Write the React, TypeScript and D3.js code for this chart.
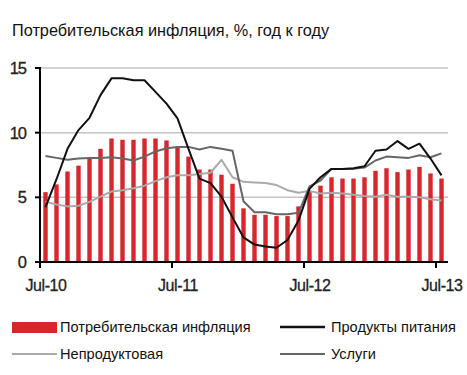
import React from "react";
import * as d3 from "d3";

const months = [
  "2010-07", "2010-08", "2010-09", "2010-10", "2010-11", "2010-12",
  "2011-01", "2011-02", "2011-03", "2011-04", "2011-05", "2011-06",
  "2011-07", "2011-08", "2011-09", "2011-10", "2011-11", "2011-12",
  "2012-01", "2012-02", "2012-03", "2012-04", "2012-05", "2012-06",
  "2012-07", "2012-08", "2012-09", "2012-10", "2012-11", "2012-12",
  "2013-01", "2013-02", "2013-03", "2013-04", "2013-05", "2013-06",
  "2013-07",
];

// consumer inflation (bars)
const cpi = [
  5.4, 6.0, 7.0, 7.45, 8.0, 8.75, 9.55, 9.45, 9.45, 9.55, 9.55, 9.4,
  8.9, 8.15, 7.15, 7.15, 6.75, 6.05, 4.15, 3.65, 3.65, 3.55, 3.55, 4.3,
  5.4, 5.9, 6.55, 6.45, 6.45, 6.55, 7.05, 7.25, 6.95, 7.15, 7.35, 6.85,
  6.45,
];

const food = [
  4.25, 6.4, 8.75, 10.2, 11.15, 12.9, 14.2, 14.2, 14.05, 14.05, 13.15, 12.25,
  11.1, 8.75, 6.45, 6.1, 5.05, 3.45, 1.9, 1.35, 1.2, 1.1, 1.7, 3.2,
  5.65, 6.55, 7.2, 7.2, 7.25, 7.4, 8.6, 8.7, 9.35, 8.75, 9.15, 8.0,
  6.7,
];

const nonFood = [
  4.65, 4.45, 4.3, 4.35, 4.65, 5.05, 5.45, 5.55, 5.7, 5.9, 6.25, 6.55,
  6.7, 6.7, 6.8, 6.9, 7.9, 6.55, 6.2, 6.15, 6.1, 5.95, 5.55, 5.35,
  5.5, 5.3, 5.35, 5.3, 5.2, 5.1, 5.05, 5.2, 5.05, 5.05, 5.0, 4.85,
  4.75,
];

const services = [
  8.2, 8.05, 7.9, 8.0, 8.05, 8.05, 8.1, 8.0, 7.85, 8.15, 8.55, 8.8,
  8.9, 8.9, 8.7, 8.9, 8.75, 8.6, 4.7, 3.85, 3.85, 3.7, 3.7, 3.8,
  5.85, 6.3, 7.2, 7.2, 7.2, 7.3, 7.85, 8.15, 8.1, 8.05, 8.25, 8.1,
  8.4,
];

const yTicks = [0, 5, 10, 15];
const xTickMonths = ["2010-07", "2011-07", "2012-07", "2013-07"];
const xTickLabels = ["Jul-10", "Jul-11", "Jul-12", "Jul-13"];

const legendItems = [
  { label: "Потребительская инфляция", kind: "bar", color: "#d8262c" },
  { label: "Продукты питания", kind: "line", color: "#111111" },
  { label: "Непродуктовая", kind: "line", color: "#aaaaaa" },
  { label: "Услуги", kind: "line", color: "#666666" },
];

const W = 467;
const H = 375;
const font = "'Liberation Sans', Arial, sans-serif";

export default function App() {
  const x = d3.scaleBand().domain(months).range([40, 447]).paddingInner(0.6).paddingOuter(0.3);
  const y = d3.scaleLinear().domain([0, 15]).range([262, 68]);
  const cx = (m: string) => (x(m) as number) + x.bandwidth() / 2;
  const tickX = (m: string) => 40 + months.indexOf(m) * ((447 - 40) / months.length);

  const line = d3
    .line<number>()
    .x((_, i) => cx(months[i]))
    .y((d) => y(d));

  const series = [
    { values: nonFood, color: "#aaaaaa" },
    { values: services, color: "#666666" },
    { values: food, color: "#111111" },
  ];

  return (
    <svg width={W} height={H} style={{ position: "absolute", left: 0, top: 0, background: "#fff" }}>
      <text x={12} y={36} fontFamily={font} fontSize={16.3} fill="#111">
        Потребительская инфляция, %, год к году
      </text>

      {yTicks.filter((t) => t > 0).map((t) => (
        <line key={t} x1={40} x2={448} y1={y(t)} y2={y(t)} stroke="#c4c4c4" strokeWidth={1.5} />
      ))}

      {cpi.map((v, i) => (
        <rect
          key={i}
          x={x(months[i])}
          y={y(v)}
          width={x.bandwidth()}
          height={y(0) - y(v)}
          fill="#d8262c"
        />
      ))}

      {series.map((s, i) => (
        <path key={i} d={line(s.values) || ""} fill="none" stroke={s.color} strokeWidth={2} strokeLinejoin="round" />
      ))}

      <line x1={40} x2={40} y1={67} y2={262} stroke="#000" strokeWidth={2} />
      <line x1={39} x2={448} y1={262} y2={262} stroke="#000" strokeWidth={2} />
      {yTicks.map((t) => (
        <g key={t}>
          <line x1={35} x2={40} y1={y(t)} y2={y(t)} stroke="#000" strokeWidth={2} />
          <text x={26} y={y(t) + 6} textAnchor="end" fontFamily={font} fontSize={16.5} letterSpacing={-1}
            fill="#222" stroke="#222" strokeWidth={0.3}>
            {t}
          </text>
        </g>
      ))}
      {xTickMonths.map((m, i) => (
        <g key={m}>
          <line x1={tickX(m)} x2={tickX(m)} y1={262} y2={268} stroke="#000" strokeWidth={2} />
          <text x={tickX(m) + 6} y={291} textAnchor="middle" fontFamily={font} fontSize={16} letterSpacing={-0.4}
            fill="#222" stroke="#222" strokeWidth={0.3}>
            {xTickLabels[i]}
          </text>
        </g>
      ))}

      {legendItems.map((it, i) => {
        const lx = i % 2 === 0 ? 12 : 280;
        const ly = i < 2 ? 327 : 354;
        return (
          <g key={it.label}>
            {it.kind === "bar" ? (
              <rect x={lx} y={ly - 5} width={45} height={11} fill={it.color} />
            ) : (
              <line x1={lx} x2={lx + 45} y1={ly} y2={ly} stroke={it.color} strokeWidth={i === 1 ? 2.5 : 2} />
            )}
            <text x={lx + (i % 2 === 0 ? 48 : 51)} y={ly + 5} fontFamily={font} fontSize={14.6} fill="#111">
              {it.label}
            </text>
          </g>
        );
      })}
    </svg>
  );
}
